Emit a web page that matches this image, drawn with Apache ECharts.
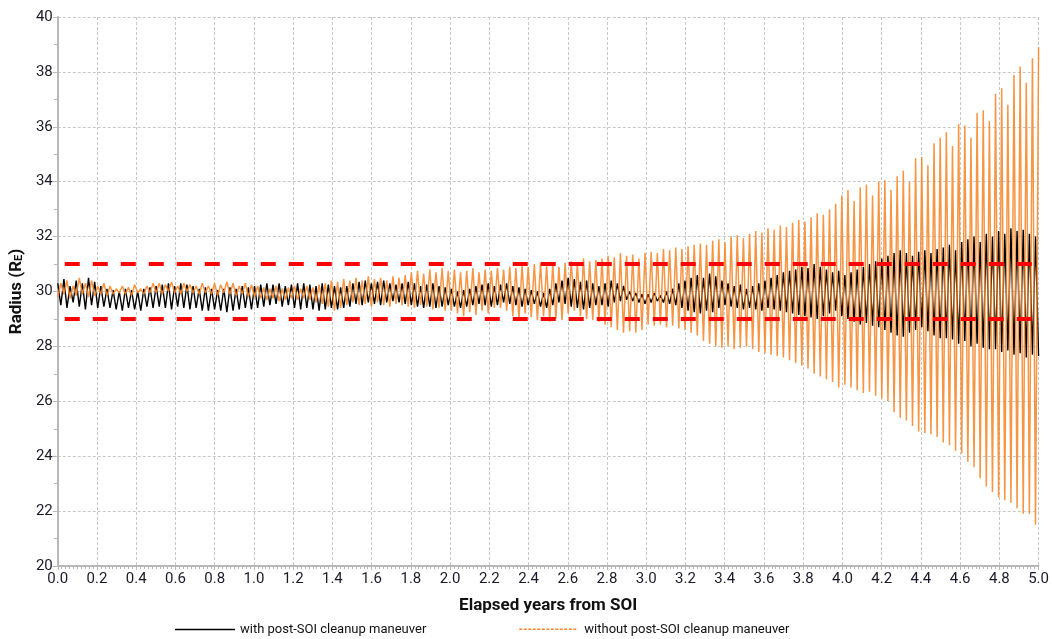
<!DOCTYPE html>
<html>
<head>
<meta charset="utf-8">
<script src="https://cdn.jsdelivr.net/npm/echarts@6/dist/echarts.min.js"></script>
<style>
  html, body { margin: 0; padding: 0; background: #ffffff; }
  #chart { width: 1052px; height: 639px; }
</style>
</head>
<body>
<div id="chart"></div>
<script>
// Orbit radius (Earth radii) over the first five years after SOI.
// Each series is stored as its successive maxima and minima, one pair per orbit,
// sampled at a fixed spacing in time.
const STEP = 5 / 319;            // years between successive turning points
const limitLines = [29, 31];     // allowed radius band

// with post-SOI cleanup maneuver
const blackHi = [
  30.3, 30.45, 30.2, 30.4, 30.3, 30.5, 30.35, 30.2,
  30.1, 30.05, 30.0, 30.1, 30.05, 30.0, 30.1, 30.15,
  30.2, 30.25, 30.3, 30.2, 30.3, 30.25, 30.2, 30.1,
  30.15, 30.1, 30.05, 30.1, 30.15, 30.1, 30.2, 30.15,
  30.2, 30.25, 30.3, 30.25, 30.3, 30.2, 30.25, 30.3,
  30.3, 30.25, 30.2, 30.3, 30.25, 30.2, 30.15, 30.2,
  30.3, 30.35, 30.4, 30.3, 30.35, 30.4, 30.3, 30.25,
  30.3, 30.35, 30.3, 30.2, 30.25, 30.3, 30.2, 30.15,
  30.1, 30.0, 30.05, 30.1, 30.2, 30.25, 30.3, 30.2,
  30.25, 30.3, 30.2, 30.15, 30.1, 30.05, 30.0, 29.95,
  30.1, 30.3, 30.4, 30.5, 30.45, 30.35, 30.4, 30.3,
  30.2, 30.3, 30.4, 30.3, 30.2, 30.0, 29.95, 29.9,
  29.9, 29.95, 29.85, 30.0, 30.1, 30.3, 30.4, 30.5,
  30.6, 30.5, 30.65, 30.55, 30.4, 30.3, 30.2, 30.25,
  30.1, 30.2, 30.3, 30.4, 30.5, 30.6, 30.7, 30.75,
  30.8, 30.9, 30.85, 31.0, 30.9, 30.8, 30.7, 30.75,
  30.6, 30.7, 30.8, 30.9, 31.0, 31.1, 31.2, 31.3,
  31.4, 31.5, 31.4, 31.3, 31.45, 31.5, 31.4, 31.55,
  31.6, 31.7, 31.5, 31.8, 31.9, 32.0, 31.8, 32.1,
  32.0, 32.2, 32.1, 32.3, 32.2, 32.25, 32.1, 32.0
];
const blackLo = [
  29.5, 29.4, 29.6, 29.45, 29.35, 29.5, 29.4, 29.45,
  29.4, 29.35, 29.3, 29.4, 29.35, 29.3, 29.45, 29.4,
  29.45, 29.4, 29.35, 29.45, 29.4, 29.35, 29.4, 29.3,
  29.3, 29.35, 29.3, 29.25, 29.3, 29.35, 29.4, 29.35,
  29.4, 29.45, 29.5, 29.55, 29.45, 29.5, 29.4, 29.35,
  29.4, 29.35, 29.3, 29.35, 29.4, 29.35, 29.4, 29.45,
  29.55, 29.5, 29.6, 29.55, 29.5, 29.6, 29.65, 29.6,
  29.55, 29.5, 29.45, 29.4, 29.45, 29.4, 29.45, 29.5,
  29.45, 29.4, 29.45, 29.5, 29.55, 29.5, 29.45, 29.5,
  29.6, 29.55, 29.5, 29.45, 29.5, 29.55, 29.45, 29.4,
  29.5, 29.6, 29.55, 29.45, 29.4, 29.35, 29.4, 29.5,
  29.5, 29.45, 29.6, 29.65, 29.7, 29.65, 29.6, 29.55,
  29.6, 29.65, 29.6, 29.55, 29.5, 29.4, 29.3, 29.25,
  29.2, 29.3, 29.25, 29.4, 29.5, 29.45, 29.4, 29.35,
  29.4, 29.35, 29.3, 29.4, 29.35, 29.3, 29.25, 29.2,
  29.15, 29.1, 29.05, 29.0, 29.1, 29.2, 29.3, 29.1,
  29.0, 28.9, 28.8, 28.85, 28.75, 28.7, 28.6, 28.5,
  28.4, 28.35, 28.5, 28.6, 28.7, 28.55, 28.4, 28.3,
  28.3, 28.25, 28.1, 28.2, 28.0, 28.1, 27.95, 27.9,
  27.9, 27.8, 27.85, 27.7, 27.75, 27.6, 27.7, 27.65
];

// without post-SOI cleanup maneuver
const orangeHi = [
  30.3, 30.4, 30.2, 30.5, 30.3, 30.4, 30.2, 30.3,
  30.2, 30.1, 30.2, 30.15, 30.25, 30.1, 30.2, 30.3,
  30.3, 30.25, 30.35, 30.2, 30.3, 30.25, 30.2, 30.3,
  30.2, 30.3, 30.25, 30.35, 30.3, 30.2, 30.3, 30.25,
  30.2, 30.15, 30.1, 30.2, 30.1, 30.15, 30.2, 30.1,
  30.2, 30.15, 30.25, 30.3, 30.4, 30.35, 30.45, 30.4,
  30.5, 30.4, 30.55, 30.45, 30.5, 30.4, 30.55, 30.5,
  30.6, 30.7, 30.75, 30.65, 30.8, 30.7, 30.85, 30.75,
  30.8, 30.7, 30.75, 30.85, 30.7, 30.8, 30.75, 30.85,
  30.8, 30.9, 30.85, 30.95, 30.9, 31.0, 31.05, 30.95,
  31.0, 30.9, 31.05, 31.1, 31.0, 31.2, 31.1, 31.15,
  31.2, 31.3, 31.25, 31.4, 31.3, 31.35, 31.2, 31.4,
  31.45, 31.4, 31.55, 31.5, 31.6, 31.55, 31.65, 31.7,
  31.75, 31.7, 31.85, 31.9, 31.8, 32.0, 32.05, 31.95,
  32.1, 32.2, 32.15, 32.3, 32.25, 32.4, 32.35, 32.5,
  32.6, 32.55, 32.7, 32.85, 32.8, 33.0, 33.2, 33.5,
  33.7, 33.3, 33.8, 33.9, 33.5, 34.0, 34.05, 33.7,
  34.2, 34.4, 34.0, 34.85, 34.9, 34.6, 35.4, 35.6,
  35.8, 35.3, 36.1, 36.05, 35.6, 36.5, 36.6, 36.2,
  37.2, 37.4, 36.8, 37.9, 38.2, 37.6, 38.5, 38.9
];
const orangeLo = [
  29.8, 29.9, 29.75, 29.85, 29.9, 29.8, 29.85, 29.9,
  29.85, 29.9, 29.95, 29.9, 29.85, 29.95, 29.9, 29.95,
  29.95, 29.9, 30.0, 29.95, 29.9, 30.0, 29.95, 29.9,
  29.95, 29.9, 29.85, 29.95, 29.9, 29.85, 29.9, 29.8,
  29.8, 29.75, 29.7, 29.75, 29.65, 29.7, 29.75, 29.7,
  29.75, 29.7, 29.6, 29.55, 29.45, 29.3, 29.4, 29.5,
  29.6, 29.5, 29.55, 29.45, 29.6, 29.5, 29.45, 29.55,
  29.5, 29.45, 29.4, 29.5, 29.45, 29.35, 29.4, 29.3,
  29.3, 29.2, 29.1, 29.25, 29.15, 29.3, 29.2, 29.4,
  29.4, 29.3, 29.1, 29.0, 29.2, 29.05, 28.95, 29.1,
  28.9, 29.0, 28.95, 29.2, 29.3, 29.1, 29.0, 28.95,
  28.9, 28.8, 28.7, 28.6, 28.5, 28.55, 28.5, 28.6,
  28.8, 28.75, 28.8, 28.7, 28.75, 28.65, 28.6, 28.5,
  28.4, 28.2, 28.1, 28.0, 27.95, 28.0, 27.9, 27.95,
  28.0, 27.9, 27.8, 27.75, 27.7, 27.65, 27.6, 27.5,
  27.4, 27.3, 27.2, 27.0, 26.9, 26.8, 26.7, 26.5,
  26.6, 26.5, 26.4, 26.3, 26.35, 26.2, 26.1, 26.0,
  25.6, 25.4, 25.3, 25.1, 24.9, 24.85, 24.8, 24.7,
  24.5, 24.4, 24.2, 24.1, 23.8, 23.6, 23.2, 22.9,
  22.7, 22.5, 22.4, 22.3, 22.1, 21.9, 21.9, 21.5
];

const xTickLabels = ['0.0','0.2','0.4','0.6','0.8','1.0','1.2','1.4','1.6','1.8','2.0','2.2','2.4',
  '2.6','2.8','3.0','3.2','3.4','3.6','3.8','4.0','4.2','4.4','4.6','4.8','5.0'];

// Interleave maxima and minima into [time, radius] points.
function turningPoints(hi, lo, highFirst) {
  const pts = [];
  for (let k = 0; k < hi.length; k++) {
    const first = highFirst ? hi[k] : lo[k];
    const second = highFirst ? lo[k] : hi[k];
    pts.push([2 * k * STEP, first]);
    pts.push([(2 * k + 1) * STEP, second]);
  }
  return pts;
}

// Legend swatches drawn inside a 60 x 12 box; two tiny corner dots fix the
// box size so the stroke itself stays thin.
const SWATCH_BOX = 'path://M0,0h0.01v0.01h-0.01z M60,12h-0.01v-0.01h0.01z';
function solidSwatch() {
  return SWATCH_BOX + ' M0,5.3h60v1.4h-60z';
}
function dashedSwatch() {
  let p = SWATCH_BOX;
  for (let x = 0; x + 3 <= 60; x += 4.5) p += ` M${x},5h3v1.6h-3z`;
  return p;
}

const FONT = "Roboto, 'Liberation Sans', sans-serif";
const ORANGE = '#f5862a';
const NAME_WITH = 'with post-SOI cleanup maneuver';
const NAME_WITHOUT = 'without post-SOI cleanup maneuver';
const gridLine = { show: true, lineStyle: { color: '#c8c8c8', width: 1, type: [3, 2] } };

const chart = echarts.init(document.getElementById('chart'), null, { renderer: 'canvas' });
chart.setOption({
  animation: false,
  backgroundColor: '#ffffff',
  grid: { left: 53, right: 12, top: 17, bottom: 73, containLabel: false },
  xAxis: {
    type: 'value', min: 0, max: 5, interval: 0.2,
    name: 'Elapsed years from SOI', nameLocation: 'middle', nameGap: 31,
    nameTextStyle: { fontFamily: FONT, fontWeight: 'bold', fontSize: 17, color: '#111' },
    axisLine: { show: true, onZero: false, lineStyle: { color: '#b8b8b8', width: 2 } },
    axisTick: { show: true, length: 4, lineStyle: { color: '#b8b8b8' } },
    minorTick: { show: true, splitNumber: 10, length: 3, lineStyle: { color: '#b8b8b8' } },
    axisLabel: {
      fontFamily: FONT, fontSize: 15, color: '#1a1a2a', margin: 6,
      formatter: v => xTickLabels[Math.round(v / 0.2)]
    },
    splitLine: gridLine
  },
  yAxis: {
    type: 'value', min: 20, max: 40, interval: 2,
    name: 'Radius (R{sub|E})', nameLocation: 'middle', nameGap: 32, nameRotate: 90,
    nameTextStyle: {
      fontFamily: FONT, fontWeight: 'bold', fontSize: 17, color: '#111',
      rich: { sub: { fontFamily: FONT, fontWeight: 'bold', fontSize: 11, verticalAlign: 'bottom', color: '#111' } }
    },
    axisLine: { show: true, onZero: false, lineStyle: { color: '#b8b8b8', width: 2 } },
    axisTick: { show: true, length: 5, lineStyle: { color: '#b8b8b8' } },
    minorTick: { show: true, splitNumber: 2, length: 4, lineStyle: { color: '#b8b8b8' } },
    axisLabel: { fontFamily: FONT, fontSize: 15, color: '#1a1a2a', margin: 5 },
    splitLine: gridLine
  },
  legend: {
    data: [
      { name: NAME_WITH, icon: solidSwatch(), itemStyle: { color: '#000000', opacity: 1 } },
      { name: NAME_WITHOUT, icon: dashedSwatch(), itemStyle: { color: ORANGE, opacity: 1 } }
    ],
    left: 170, top: 618, itemWidth: 60, itemHeight: 12, itemGap: 93,
    textStyle: { fontFamily: FONT, fontSize: 13, color: '#111' }
  },
  series: [
    {
      name: NAME_WITH, type: 'line', showSymbol: false, symbol: 'none',
      data: turningPoints(blackHi, blackLo, true),
      lineStyle: { color: '#000000', width: 1.4 }, itemStyle: { color: '#000000' },
      z: 2, silent: true
    },
    {
      name: NAME_WITHOUT, type: 'line', showSymbol: false, symbol: 'none',
      data: turningPoints(orangeHi, orangeLo, false),
      lineStyle: { color: ORANGE, width: 1.5, opacity: 0.88 }, itemStyle: { color: ORANGE },
      z: 3, silent: true,
      markLine: {
        silent: true, symbol: 'none', label: { show: false },
        lineStyle: { color: '#ff0000', width: 4, type: [15, 13], dashOffset: 21, opacity: 1 },
        data: limitLines.map(v => ({ yAxis: v }))
      }
    }
  ]
});
</script>
</body>
</html>
